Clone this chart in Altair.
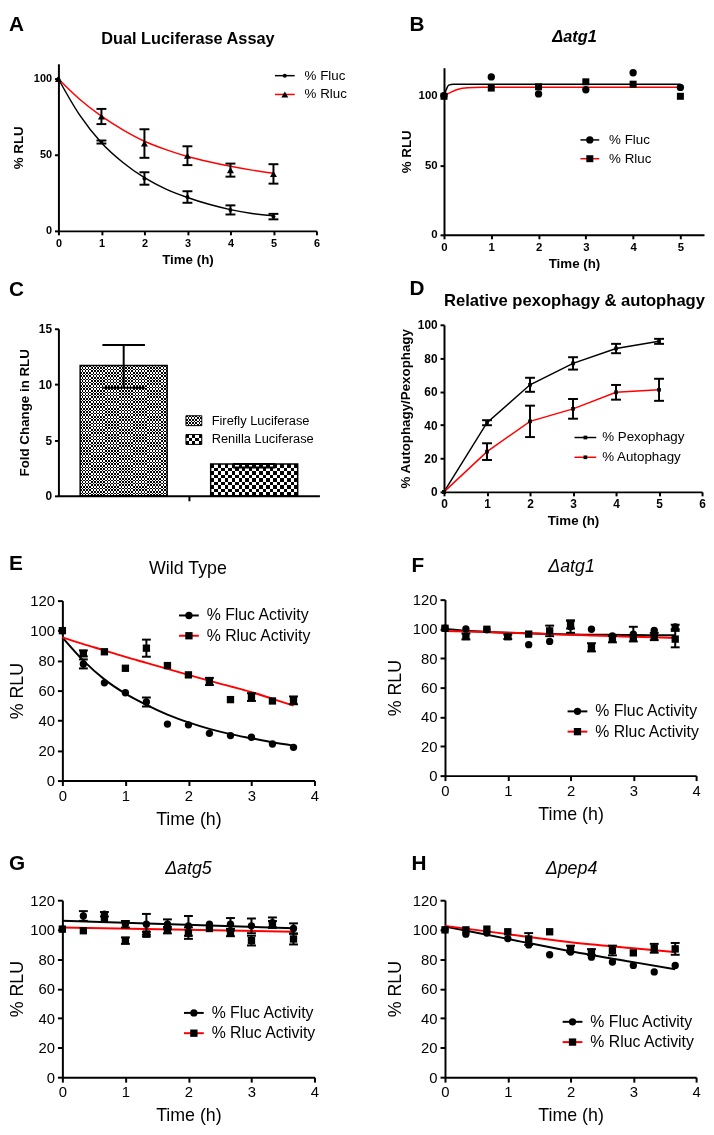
import altair as alt
import pandas as pd

FONT = "Liberation Sans"
RED = "#ff0000"

# ---------------- Panel A : Dual Luciferase Assay ----------------
A_TIME = [0, 1, 2, 3, 4, 5]
A_FLUC = [100, 58.5, 34.5, 22.3, 13.8, 9.4]
A_FLUC_ERR = [0, 1.0, 4.1, 3.8, 3.0, 1.8]
A_RLUC = [100, 75.3, 57.5, 49.5, 40.0, 37.5]
A_RLUC_ERR = [0, 5.0, 9.4, 6.2, 4.3, 6.4]
A_FIT_TIME = [0, 0.5, 1, 1.5, 2, 2.5, 3, 3.5, 4, 4.5, 5]
A_FLUC_FIT = [100, 76, 58, 45, 35, 27.5, 22, 17.5, 14, 11.5, 10]
A_RLUC_FIT = [100, 86.5, 75.5, 66.5, 59, 53.5, 49, 45.5, 42.5, 40, 38]

# ---------------- Panel B : delta atg1 ----------------
B_TIME = [0, 1, 2, 3, 4, 5]
B_FLUC = [100, 113.4, 101.2, 104.2, 116.4, 105.9]
B_RLUC = [99.5, 105.4, 106.3, 109.9, 108.2, 99.5]
B_FLUC_FIT_TIME = [0, 0.05, 0.1, 0.2, 5]
B_FLUC_FIT = [100, 104.5, 107.5, 108.2, 108.2]
B_RLUC_FIT_TIME = [0, 0.15, 0.3, 0.5, 0.8, 5]
B_RLUC_FIT = [100, 102.5, 104.5, 105.6, 106, 106]

# ---------------- Panel C : fold change ----------------
C_NAMES = ["Firefly Luciferase", "Renilla Luciferase"]
C_VALUES = [11.7, 2.85]
C_LOW = [9.7, 2.55]
C_HIGH = [13.55, 2.85]

# ---------------- Panel D : pexophagy / autophagy ----------------
D_TIME = [0, 1, 2, 3, 4, 5]
D_PEX = [0, 41.4, 64.1, 76.9, 85.8, 90.1]
D_PEX_ERR = [0, 1.5, 4.2, 3.7, 2.8, 1.5]
D_AUT = [0, 24.1, 42.2, 49.7, 59.6, 61.1]
D_AUT_ERR = [0, 5.0, 9.4, 5.9, 4.4, 6.6]

# ---------------- Panels E-H (time in h) ----------------
T12 = [0, 0.333, 0.667, 1, 1.333, 1.667, 2, 2.333, 2.667, 3, 3.333, 3.667]

E_FLUC = [100, 77.8, 65.2, 58.6, 52.4, 37.7, 37.2, 31.5, 30, 28.9, 24.4, 22.2]
E_FLUC_ERR = [0, 3, 0, 0, 3, 0, 0, 0, 0, 0, 0, 0]
E_RLUC = [100, 84.8, 85.9, 74.9, 88.3, 76.7, 70.5, 66.1, 54, 55.7, 53.1, 53.5]
E_RLUC_ERR = [0, 2, 0, 0, 5.7, 0, 0, 2.4, 0, 2.6, 0, 2.6]
E_FLUC_FIT = [95.5, 80, 67.5, 58, 50.5, 44, 38.8, 34.5, 31, 28.2, 25.5, 23.3]
E_RLUC_FIT = [95.5, 91, 86.8, 82.5, 78.5, 74.5, 70.5, 66.5, 62.8, 59, 54.5, 50]

F_FLUC = [100.5, 100, 99.4, 95, 89.3, 91.5, 101.6, 99.8, 95.3, 96.5, 99.1, 101.4]
F_FLUC_ERR = [0, 0, 0, 0, 0, 0, 4.2, 0, 0, 5, 0, 1.5]
F_RLUC = [100.5, 94.9, 99.8, 94.7, 96.5, 98.7, 103, 87.5, 93.1, 94.2, 94.9, 93.1]
F_RLUC_ERR = [0, 2, 0, 1.5, 0, 3.6, 2.7, 2.8, 2.2, 0, 2.5, 5.6]
F_FLUC_FIT = [100, 98.8, 98, 97.4, 97, 96.6, 96.3, 96.1, 96, 95.9, 95.8, 95.8]
F_RLUC_FIT = [98.7, 98.3, 97.9, 97.4, 97, 96.5, 96.1, 95.6, 95.2, 94.7, 94.3, 93.8]

G_FLUC = [100.4, 109.3, 110.5, 103.7, 103.7, 103.7, 102.6, 103.7, 103.7, 102.6, 104.8, 100.8]
G_FLUC_ERR = [0, 3.3, 1.5, 2.2, 7, 3.3, 6.7, 0, 4.2, 5, 3.5, 3.5]
G_RLUC = [100.4, 99.3, 107, 92.6, 97, 99.7, 97.7, 100.8, 98.1, 92.6, 103.7, 93.7]
G_RLUC_ERR = [0, 0, 0, 2.2, 1.6, 2.2, 3.9, 0, 2.5, 3.3, 2.2, 3.7]
G_FIT_TIME = [0, 3.667]
G_FLUC_FIT = [106, 101]
G_RLUC_FIT = [101.5, 98.6]

H_FLUC = [99.9, 97, 97.7, 94, 89.7, 83, 84.8, 81.4, 78.1, 75.8, 71.4, 75.8]
H_FLUC_ERR = [0] * 12
H_RLUC = [99.9, 99.9, 100.4, 98.6, 93.7, 98.6, 87, 84.8, 85.9, 84.3, 87.4, 87]
H_RLUC_ERR = [0, 0, 0, 0, 4, 0, 2.2, 2, 3.3, 0, 3, 4]
H_FIT_TIME = [0, 1, 2, 3, 3.667]
H_FLUC_FIT = [102.2, 93.8, 85.4, 78, 73.2]
H_RLUC_FIT = [102.6, 97, 91.5, 87.4, 84.8]

# tick values
TICKS_0_6 = [0, 1, 2, 3, 4, 5, 6]
TICKS_0_5 = [0, 1, 2, 3, 4, 5]
TICKS_0_4 = [0, 1, 2, 3, 4]
TICKS_RLU_AB = [0, 50, 100]
TICKS_C = [0, 5, 10, 15]
TICKS_D = [0, 20, 40, 60, 80, 100]
TICKS_EH = [0, 20, 40, 60, 80, 100, 120]

# cell sizes (uniform per column / row so the grid is deterministic)
COL1_W, COL2_W = 264, 263
ROW_H = [223, 224, 248, 260]


# ---------------- helpers ----------------
def frame(t, v, err=None):
    if err is None:
        err = [0] * len(t)
    return pd.DataFrame({
        "t": t, "v": v, "e": err,
        "lo": [a - e for a, e in zip(v, err)],
        "hi": [a + e for a, e in zip(v, err)],
    })


def axis_bold(title, values, label_size=11, title_pad=7, offset=0):
    return alt.Axis(
        title=title, values=values, grid=False, offset=offset,
        domainColor="black", domainWidth=2,
        tickColor="black", tickWidth=2, tickSize=4,
        labelFont=FONT, labelFontSize=label_size, labelFontWeight="bold",
        labelColor="black", labelPadding=3, labelFlush=False, labelOverlap=False,
        titleFont=FONT, titleFontSize=13.5, titleFontWeight="bold",
        titleColor="black", titlePadding=title_pad,
    )


def axis_plain(title, values, title_pad=6, offset=0):
    return alt.Axis(
        title=title, values=values, grid=False, offset=offset,
        domainColor="black", domainWidth=2,
        tickColor="black", tickWidth=2, tickSize=5,
        labelFont=FONT, labelFontSize=15, labelFontWeight="normal",
        labelColor="black", labelPadding=3, labelFlush=False, labelOverlap=False,
        titleFont=FONT, titleFontSize=18, titleFontWeight="normal",
        titleColor="black", titlePadding=title_pad,
    )


class Frame:
    """Scales and axes shared by every data layer of one panel."""
    def __init__(self, xs, ys, xax, yax):
        self.xs, self.ys, self.xax, self.yax = xs, ys, xax, yax

    def x(self, field="t"):
        return alt.X(f"{field}:Q", scale=self.xs, axis=self.xax)

    def y(self, field="v"):
        return alt.Y(f"{field}:Q", scale=self.ys, axis=self.yax)


def line(fr, t, v, color, width, interp="monotone"):
    return alt.Chart(frame(t, v)).mark_line(
        color=color, strokeWidth=width, interpolate=interp
    ).encode(x=fr.x(), y=fr.y())


def errbars(fr, t, v, err, width, cap):
    df = frame(t, v, err)
    df = df[df["e"] > 0]
    base = alt.Chart(df)
    rule = base.mark_rule(color="black", strokeWidth=width).encode(
        x=fr.x(), y=fr.y("lo"), y2="hi:Q")
    top = base.mark_tick(orient="horizontal", size=cap, thickness=width,
                         color="black", opacity=1).encode(x=fr.x(), y=fr.y("hi"))
    bot = base.mark_tick(orient="horizontal", size=cap, thickness=width,
                         color="black", opacity=1).encode(x=fr.x(), y=fr.y("lo"))
    return [rule, top, bot]


def points(fr, t, v, shape, size):
    return alt.Chart(frame(t, v)).mark_point(
        shape=shape, size=size, filled=True, color="black", opacity=1, strokeWidth=0
    ).encode(x=fr.x(), y=fr.y())


def text(s, x, y, size, weight="normal", style="normal", align="left", baseline="alphabetic"):
    return alt.Chart(pd.DataFrame({"s": [s]})).mark_text(
        font=FONT, fontSize=size, fontWeight=weight, fontStyle=style,
        align=align, baseline=baseline, color="black"
    ).encode(x=alt.value(x), y=alt.value(y), text="s:N")


def legend(entries, x0, x1, xt, y0, dy, fs, lw):
    out = []
    for i, (lab, color, shape, size) in enumerate(entries):
        y = y0 + i * dy
        one = pd.DataFrame({"s": [lab]})
        out.append(alt.Chart(one).mark_rule(color=color, strokeWidth=lw).encode(
            x=alt.value(x0), x2=alt.value(x1), y=alt.value(y)))
        out.append(alt.Chart(one).mark_point(
            shape=shape, size=size, filled=True, color="black", opacity=1, strokeWidth=0
        ).encode(x=alt.value((x0 + x1) / 2), y=alt.value(y)))
        out.append(text(lab, xt, y, fs, baseline="middle"))
    return out


def panel_label(s, x, y):
    return text(s, x, y, 21, weight="bold", baseline="top")


def stripes(n, across):
    """Black/white band gradient (texture style only). across=True: vertical bands."""
    stops = []
    for i in range(n):
        c = "black" if i % 2 else "white"
        stops.append({"offset": i / n, "color": c})
        stops.append({"offset": (i + 1) / n, "color": c})
    if across:
        return {"gradient": "linear", "x1": 0, "y1": 0, "x2": 1, "y2": 0, "stops": stops}
    return {"gradient": "linear", "x1": 0, "y1": 0, "x2": 0, "y2": 1, "stops": stops}


# ---------------- Panel A ----------------
frA = Frame(alt.Scale(domain=[0, 6], range=[0, 261], nice=False, zero=False),
            alt.Scale(domain=[0, 110], range=[219, 50], nice=False),
            axis_bold("Time (h)", TICKS_0_6, 11, 4, offset=-4),
            axis_bold("% RLU", TICKS_RLU_AB, 11, 8))
panelA = alt.layer(
    line(frA, A_FIT_TIME, A_FLUC_FIT, "black", 1.5),
    line(frA, A_FIT_TIME, A_RLUC_FIT, RED, 1.5),
    *errbars(frA, A_TIME, A_FLUC, A_FLUC_ERR, 2, 10),
    *errbars(frA, A_TIME, A_RLUC, A_RLUC_ERR, 2, 10),
    points(frA, A_TIME, A_FLUC, "circle", 16),
    points(frA, A_TIME, A_RLUC, "triangle-up", 50),
    *legend([("% Fluc", "black", "circle", 16), ("% Rluc", RED, "triangle-up", 50)],
            219, 239, 249, 62, 19, 13.5, 1.5),
    panel_label("A", -50, 0),
    text("Dual Luciferase Assay", 131, 30, 16.5, weight="bold", align="center"),
).properties(width=COL1_W, height=ROW_H[0])

# ---------------- Panel B ----------------
frB = Frame(alt.Scale(domain=[0, 5.5], range=[0, 263], nice=False, zero=False),
            alt.Scale(domain=[0, 120], range=[223, 54], nice=False),
            axis_bold("Time (h)", TICKS_0_5, 11.5, 4),
            axis_bold("% RLU", TICKS_RLU_AB, 11.5, 5))
panelB = alt.layer(
    line(frB, B_FLUC_FIT_TIME, B_FLUC_FIT, "black", 1.5),
    line(frB, B_RLUC_FIT_TIME, B_RLUC_FIT, RED, 1.5),
    points(frB, B_TIME, B_FLUC, "circle", 55),
    points(frB, B_TIME, B_RLUC, "square", 50),
    *legend([("% Fluc", "black", "circle", 55), ("% Rluc", RED, "square", 50)],
            138, 157, 167, 127, 19, 13.5, 1.5),
    panel_label("B", -35, 0),
    text("\u0394atg1", 132, 28, 16.5, weight="bold", style="italic", align="center"),
).properties(width=COL2_W, height=ROW_H[0])

# ---------------- Panel C ----------------
dfC = pd.DataFrame({"name": C_NAMES, "v": C_VALUES, "lo": C_LOW, "hi": C_HIGH})
xsC = alt.Scale(domain=C_NAMES, range=[0, 264], paddingInner=1 / 3, paddingOuter=1 / 6)
ysC = alt.Scale(domain=[0, 15], range=[224, 55], nice=False)
axCx = alt.Axis(values=[C_NAMES[0]], tickOffset=66, labels=False, title=None, grid=False,
                domainColor="black", domainWidth=2,
                tickColor="black", tickWidth=2, tickSize=5)
axCy = axis_bold("Fold Change in RLU", TICKS_C, 12, 7)
xC = alt.X("name:N", scale=xsC, axis=axCx, sort=C_NAMES)
yC = alt.Y("v:Q", scale=ysC, axis=axCy)

# checkered textures: (bands down, bands across) for bar and legend swatch
C_TEXTURE = {C_NAMES[0]: (80, 56), C_NAMES[1]: (9, 25)}
C_SWATCH = {C_NAMES[0]: (6, 10), C_NAMES[1]: (3, 5)}

c_layers = []
for nm in C_NAMES:
    rows, cols = C_TEXTURE[nm]
    one = alt.Chart(dfC).transform_filter(alt.datum.name == nm)
    c_layers.append(one.mark_bar(fill=stripes(rows, False)).encode(x=xC, y=yC))
    c_layers.append(one.mark_bar(fill=stripes(cols, True), blend="difference").encode(x=xC, y=yC))
c_layers.append(alt.Chart(dfC).mark_bar(fillOpacity=0, stroke="black", strokeWidth=1.5)
                .encode(x=xC, y=yC))
c_rule = alt.Chart(dfC).mark_rule(color="black", strokeWidth=2).encode(
    x=xC, y=alt.Y("lo:Q", scale=ysC, axis=axCy), y2="hi:Q")
c_top = alt.Chart(dfC).mark_tick(orient="horizontal", size=43, thickness=2, color="black", opacity=1).encode(
    x=xC, y=alt.Y("hi:Q", scale=ysC, axis=axCy))
c_bot = alt.Chart(dfC).mark_tick(orient="horizontal", size=43, thickness=2, color="black", opacity=1).encode(
    x=xC, y=alt.Y("lo:Q", scale=ysC, axis=axCy))
c_leg = []
for i, nm in enumerate(C_NAMES):
    yy = 148 + i * 19
    rows, cols = C_SWATCH[nm]
    sw = alt.Chart(pd.DataFrame({"s": [nm]}))
    pos = dict(x=alt.value(129), x2=alt.value(145), y=alt.value(yy - 5), y2=alt.value(yy + 5))
    c_leg.append(sw.mark_rect(fill=stripes(rows, False)).encode(**pos))
    c_leg.append(sw.mark_rect(fill=stripes(cols, True), blend="difference").encode(**pos))
    c_leg.append(sw.mark_rect(fillOpacity=0, stroke="black", strokeWidth=1).encode(**pos))
    c_leg.append(text(nm, 155, yy, 13, baseline="middle"))
panelC = alt.layer(
    *c_layers, c_rule, c_top, c_bot, *c_leg,
    panel_label("C", -50, 5),
).properties(width=COL1_W, height=ROW_H[1])

# ---------------- Panel D ----------------
frD = Frame(alt.Scale(domain=[0, 6], range=[0, 261], nice=False, zero=False),
            alt.Scale(domain=[0, 100], range=[220, 51], nice=False),
            axis_bold("Time (h)", TICKS_0_6, 12, 4, offset=-4),
            axis_bold("% Autophagy/Pexophagy", TICKS_D, 12, 5))
panelD = alt.layer(
    line(frD, D_TIME, D_PEX, "black", 1.5, interp="linear"),
    line(frD, D_TIME, D_AUT, RED, 1.5, interp="linear"),
    *errbars(frD, D_TIME, D_PEX, D_PEX_ERR, 2, 10),
    *errbars(frD, D_TIME, D_AUT, D_AUT_ERR, 2, 10),
    points(frD, D_TIME, D_PEX, "square", 14),
    points(frD, D_TIME, D_AUT, "square", 14),
    *legend([("% Pexophagy", "black", "square", 14), ("% Autophagy", RED, "square", 14)],
            132, 154, 160, 165, 20, 13.5, 1.5),
    panel_label("D", -35, 4),
    text("Relative pexophagy & autophagy", 132, 32, 16.8, weight="bold", align="center"),
).properties(width=COL2_W, height=ROW_H[1])


# ---------------- Panels E-H ----------------
def panel_eh(letter, title, fl, fl_err, rl, rl_err, fit_t, fl_fit, rl_fit,
             cell_w, cell_h, x0, x1, ybot, ytop, ytpad, leg_x, leg_y, lab_x, lab_y,
             title_x, title_y, title_style):
    fr = Frame(alt.Scale(domain=[0, 4], range=[x0, x1], nice=False, zero=False),
               alt.Scale(domain=[0, 120], range=[ybot, ytop], nice=False),
               axis_plain("Time (h)", TICKS_0_4, 7, offset=ybot - cell_h),
               axis_plain("% RLU", TICKS_EH, ytpad, offset=-x0))
    return alt.layer(
        line(fr, fit_t, fl_fit, "black", 2),
        line(fr, fit_t, rl_fit, RED, 2),
        *errbars(fr, T12, fl, fl_err, 2, 9),
        *errbars(fr, T12, rl, rl_err, 2, 9),
        points(fr, T12, fl, "circle", 55),
        points(fr, T12, rl, "square", 55),
        *legend([("% Fluc Activity", "black", "circle", 55),
                 ("% Rluc Activity", RED, "square", 55)],
                leg_x, leg_x + 20, leg_x + 28, leg_y, 20.5, 16, 2),
        panel_label(letter, lab_x, lab_y),
        text(title, title_x, title_y, 18, style=title_style, align="center"),
    ).properties(width=cell_w, height=cell_h)


panelE = panel_eh("E", "Wild Type", E_FLUC, E_FLUC_ERR, E_RLUC, E_RLUC_ERR,
                  T12, E_FLUC_FIT, E_RLUC_FIT, COL1_W, ROW_H[2], 4, 259, 248, 66, 3,
                  122, 81, -50, 18, 131, 39, "normal")
panelF = panel_eh("F", "\u0394atg1", F_FLUC, F_FLUC_ERR, F_RLUC, F_RLUC_ERR,
                  T12, F_FLUC_FIT, F_RLUC_FIT, COL2_W, ROW_H[2], 1, 255, 243, 65, 8,
                  125, 178, -33, 20, 129, 37, "italic")
panelG = panel_eh("G", "\u0394atg5", G_FLUC, G_FLUC_ERR, G_RLUC, G_RLUC_ERR,
                  G_FIT_TIME, G_FLUC_FIT, G_RLUC_FIT, COL1_W, ROW_H[3], 4, 259, 260, 81, 3,
                  127, 195, -50, 33, 131.5, 54, "italic")
panelH = panel_eh("H", "\u0394pep4", H_FLUC, H_FLUC_ERR, H_RLUC, H_RLUC_ERR,
                  H_FIT_TIME, H_FLUC_FIT, H_RLUC_FIT, COL2_W, ROW_H[3], 1, 255, 260, 81, 8,
                  120, 204, -33, 33, 129, 54, "italic")

chart = alt.concat(
    panelA, panelB, panelC, panelD, panelE, panelF, panelG, panelH,
    columns=2, spacing={"row": 40, "column": 126}, bounds="flush",
).properties(padding=0, background="white").configure_view(stroke=None)

chart.save("out.html", embed_options={"renderer": "svg", "actions": False})
